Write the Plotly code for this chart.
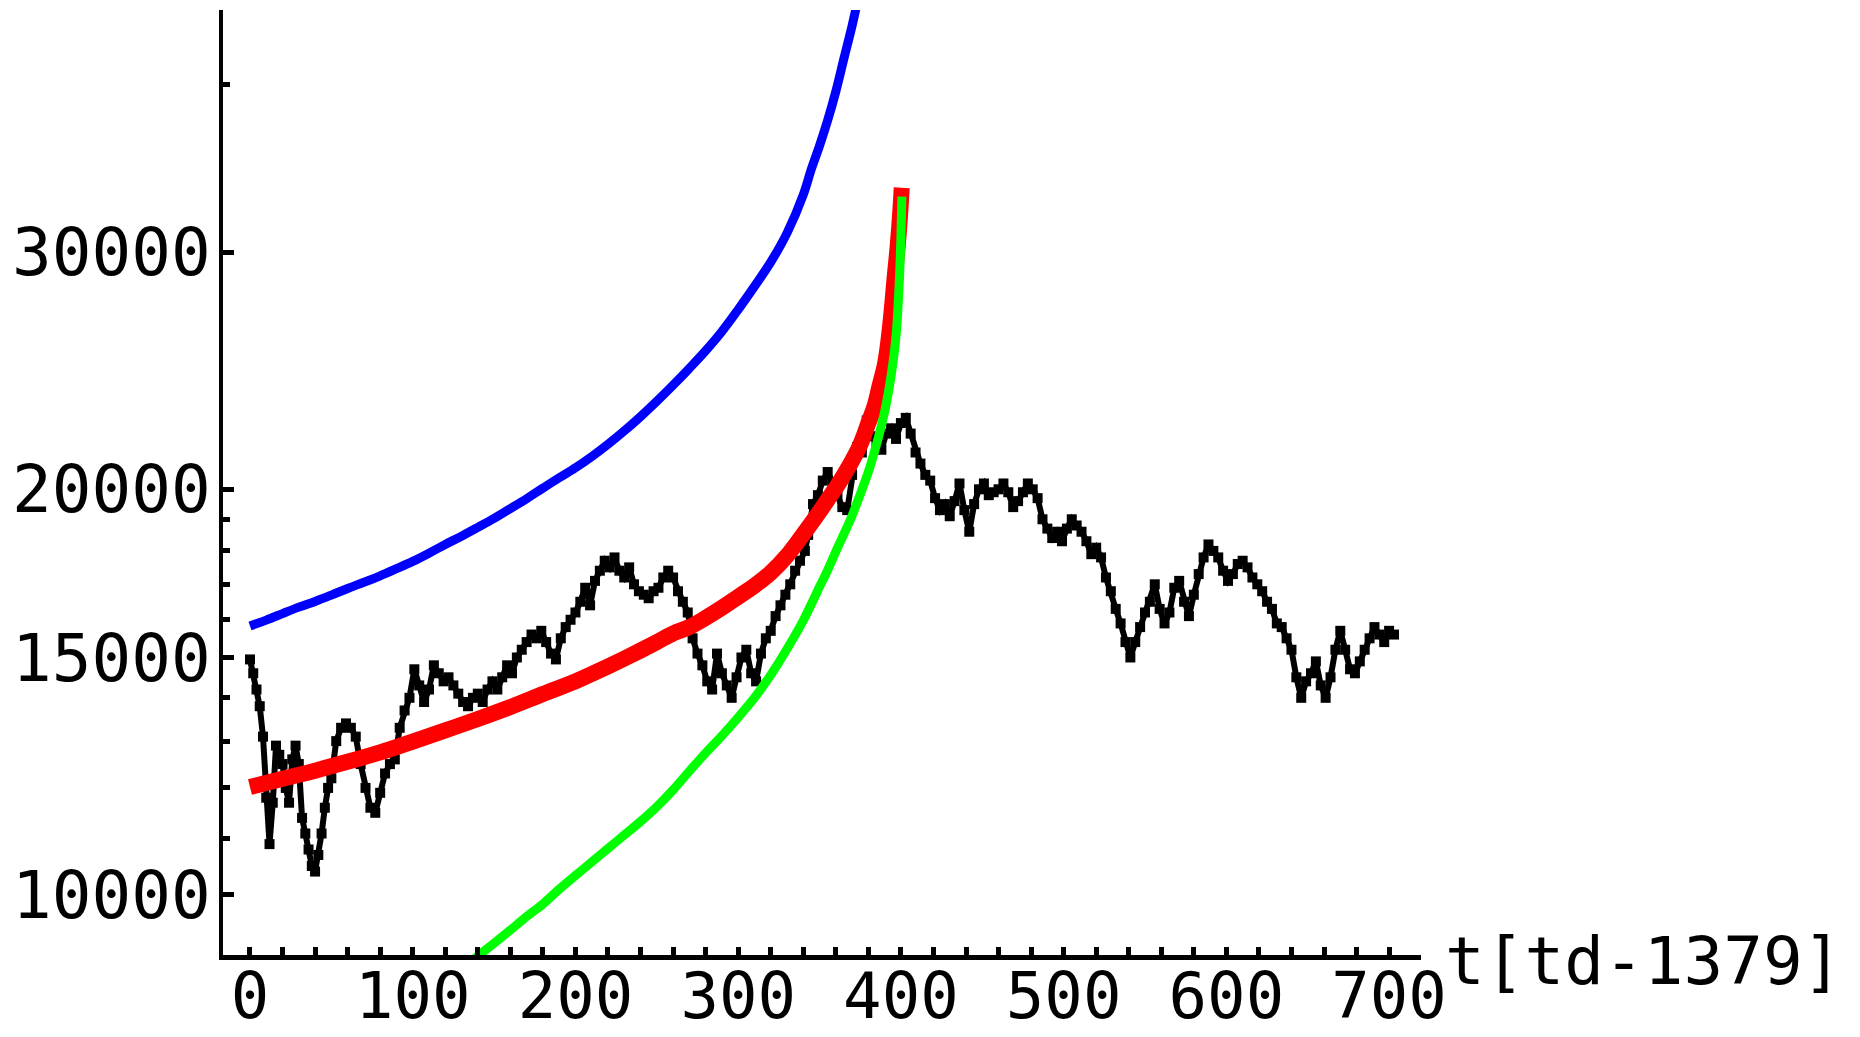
import plotly.graph_objects as go

# ---------------- data ----------------
blue_t = [0, 10, 20, 30, 40, 50, 60, 70, 80, 90, 100, 110, 120, 130, 140, 150, 160, 170, 180, 190,
          200, 210, 220, 230, 240, 250, 260, 270, 280, 290, 300, 310, 320, 330, 340, 345, 350, 355,
          360, 365, 370, 374]
blue_v = [15830, 15990, 16170, 16350, 16510, 16690, 16880, 17060, 17250, 17460, 17680, 17930, 18200,
          18460, 18740, 19030, 19350, 19680, 20040, 20400, 20750, 21150, 21600, 22100, 22650, 23250,
          23900, 24600, 25350, 26200, 27200, 28300, 29500, 31000, 33100, 34600, 36000, 37600, 39500,
          41800, 44200, 46500]

red_t = [0, 20, 40, 60, 80, 100, 120, 140, 160, 180, 200, 210, 220, 230, 240, 250, 260, 270, 280,
         290, 300, 310, 320, 330, 340, 350, 355, 360, 365, 370, 375, 380, 384, 387, 390, 392, 394,
         396, 398, 399.5, 400.5]
red_v = [12020, 12190, 12360, 12550, 12750, 12990, 13240, 13500, 13780, 14090, 14400, 14580, 14770,
         14970, 15180, 15400, 15630, 15800, 16050, 16330, 16640, 16960, 17340, 17850, 18520, 19250,
         19650, 20050, 20500, 21000, 21580, 22400, 23100, 23900, 24700, 25600, 26900, 28600, 30300,
         32000, 33500]

green_t = [130, 140, 150, 160, 170, 180, 190, 200, 210, 220, 230, 240, 250, 260, 270, 280, 290, 300,
           310, 320, 330, 340, 350, 355, 360, 365, 370, 375, 380, 384, 388, 391, 394, 397, 399, 400,
           400.6]
green_v = [8800, 9000, 9200, 9410, 9630, 9840, 10090, 10330, 10570, 10820, 11070, 11330, 11620, 11960,
           12350, 12740, 13120, 13540, 14000, 14560, 15220, 15980, 16930, 17420, 17980, 18530, 19120,
           19830, 20600, 21380, 22300, 23150, 24300, 26000, 28500, 30800, 33000]

black_t = [0, 2, 4, 6, 8, 10, 12, 14, 16, 18, 20, 22, 24, 26, 28, 30, 32, 34, 36, 38, 40, 42, 44, 46,
           48, 50, 53, 56, 59, 62, 65, 68, 71, 74, 77, 80, 83, 86, 89, 92, 95, 98, 101, 104, 107, 110,
           113, 116, 119, 122, 125, 128, 131, 134, 137, 140, 143, 146, 149, 152, 155, 158, 161, 164,
           167, 170, 173, 176, 179, 182, 185, 188, 191, 194, 197, 200, 203, 206, 209, 212, 215, 218,
           221, 224, 227, 230, 233, 236, 239, 242, 245, 248, 251, 254, 257, 260, 263, 266, 269, 272,
           275, 278, 281, 284, 287, 290, 293, 296, 299, 302, 305, 308, 311, 314, 317, 320, 323, 326,
           329, 332, 335, 338, 341, 343, 346, 349, 352, 355, 358, 361, 364, 367, 370, 373, 376, 379,
           382, 385, 388, 391, 394, 397, 400, 403, 406, 409, 412, 415, 418, 421, 424, 427, 430, 433,
           436, 439, 442, 445, 448, 451, 454, 457, 460, 463, 466, 469, 472, 475, 478, 481, 484, 487,
           490, 493, 496, 499, 502, 505, 508, 511, 514, 517, 520, 523, 526, 529, 532, 535, 538, 541,
           544, 547, 550, 553, 556, 559, 562, 565, 568, 571, 574, 577, 580, 583, 586, 589, 592, 595,
           598, 601, 604, 607, 610, 613, 616, 619, 622, 625, 628, 631, 634, 637, 640, 643, 646, 649,
           652, 655, 658, 661, 664, 667, 670, 673, 676, 679, 682, 685, 688, 691, 694, 697, 700, 703]
black_v = [14950, 14600, 14200, 13800, 13100, 11800, 10900, 11700, 12900, 12700, 12500, 12000, 11700,
           12600, 12900, 12500, 11400, 11100, 10800, 10500, 10400, 10700, 11100, 11600, 12000, 12200,
           13000, 13300, 13400, 13300, 13100, 12500, 12000, 11600, 11500, 11900, 12300, 12500, 12600,
           13300, 13700, 14000, 14700, 14300, 13900, 14200, 14800, 14600, 14400, 14500, 14300, 14100,
           13900, 13800, 14000, 14100, 13900, 14200, 14400, 14200, 14500, 14800, 14600, 15000, 15200,
           15400, 15600, 15500, 15700, 15400, 15100, 14950, 15500, 15800, 16000, 16200, 16500, 16900,
           16400, 17100, 17400, 17700, 17500, 17800, 17400, 17200, 17500, 17000, 16800, 16700, 16600,
           16800, 16900, 17200, 17400, 17200, 16800, 16500, 16200, 15500, 15100, 14800, 14400, 14200,
           15100, 14600, 14300, 14000, 14500, 15000, 15200, 14600, 14400, 15100, 15500, 15700, 16100,
           16400, 16700, 17000, 17400, 17700, 18000, 18500, 19500, 19800, 20300, 20600, 20200, 19800,
           19400, 19300, 20500, 21500, 21300, 22500, 21900, 21600, 21400, 22000, 22200, 21800, 22400,
           22600, 22000, 21300, 20900, 20500, 20300, 19700, 19300, 19500, 19100, 19600, 20200, 19300,
           18600, 19500, 20000, 20200, 19800, 19900, 20000, 20200, 19900, 19400, 19600, 19900, 20200,
           20000, 19700, 19000, 18700, 18400, 18600, 18300, 18700, 19000, 18800, 18600, 18300, 17900,
           18100, 17800, 17200, 16800, 16300, 15900, 15400, 15000, 15400, 15800, 16200, 16500, 17000,
           16300, 15900, 16200, 16900, 17100, 16500, 16100, 16700, 17300, 17800, 18200, 18000, 17800,
           17400, 17100, 17300, 17600, 17700, 17500, 17200, 17000, 16800, 16500, 16300, 15900, 15800,
           15500, 15200, 14500, 14000, 14400, 14600, 14900, 14300, 14000, 14500, 15200, 15700, 15200,
           14700, 14600, 14900, 15200, 15500, 15800, 15600, 15400, 15700, 15600]

x_ticks = [0, 100, 200, 300, 400, 500, 600, 700]
y_ticks = [10000, 15000, 20000, 30000]
y_tick_text = ["10000", "15000", "20000", "30000"]
y_minor = [11000, 12000, 13000, 14000, 16000, 17000, 18000, 19000, 40000]
x_title = "t[td-1379]"

FONT = "DejaVu Sans Mono"

fig = go.Figure()
fig.add_trace(go.Scatter(x=black_t, y=black_v, mode="lines+markers",
                         line=dict(color="#000000", width=6),
                         marker=dict(symbol="square", size=10, color="#000000", line=dict(width=0)),
                         showlegend=False, hoverinfo="skip"))
fig.add_trace(go.Scatter(x=blue_t, y=blue_v, mode="lines", line_shape="spline",
                         line=dict(color="#0000FF", width=9), showlegend=False, hoverinfo="skip"))
fig.add_trace(go.Scatter(x=red_t, y=red_v, mode="lines", line_shape="spline",
                         line=dict(color="#FF0000", width=16), showlegend=False, hoverinfo="skip"))
fig.add_trace(go.Scatter(x=green_t, y=green_v, mode="lines", line_shape="spline",
                         line=dict(color="#00FF00", width=9), showlegend=False, hoverinfo="skip"))

fig.update_layout(
    width=1860, height=1037,
    margin=dict(l=223, r=439, t=10, b=82, pad=0, autoexpand=False),
    paper_bgcolor="white", plot_bgcolor="white",
    font=dict(family=FONT, size=66, color="black"),
    xaxis=dict(range=[-16.58, 719.6], showgrid=False, zeroline=False, automargin=False,
               showline=True, linecolor="black", linewidth=5,
               tickmode="array", tickvals=x_ticks, ticktext=[str(v) for v in x_ticks],
               ticks="inside", ticklen=8, tickwidth=5, tickcolor="black",
               ticklabelstandoff=-19,
               minor=dict(dtick=20, tick0=0, ticks="inside", ticklen=8, tickwidth=5,
                          tickcolor="black", showgrid=False),
               tickfont=dict(family=FONT, size=64, color="black")),
    yaxis=dict(type="log", range=[3.95505, 4.65713], showgrid=False, zeroline=False,
               automargin=False,
               showline=True, linecolor="black", linewidth=4,
               tickmode="array", tickvals=y_ticks, ticktext=y_tick_text,
               ticks="inside", ticklen=11, tickwidth=5, tickcolor="black",
               ticklabelstandoff=-5,
               minor=dict(tickvals=y_minor, ticks="inside", ticklen=7, tickwidth=5,
                          tickcolor="black", showgrid=False),
               tickfont=dict(family=FONT, size=66, color="black")),
    annotations=[dict(text=x_title, xref="paper", yref="paper",
                      x=(1443 - 223) / 1198, y=(955 - 961) / 945,
                      xanchor="left", yanchor="middle", showarrow=False,
                      font=dict(family=FONT, size=66, color="black"))],
)

fig.write_html("out.html", config={"displayModeBar": False},
               post_script="document.body.style.margin='0';document.body.style.padding='0';document.body.style.overflow='hidden';")
